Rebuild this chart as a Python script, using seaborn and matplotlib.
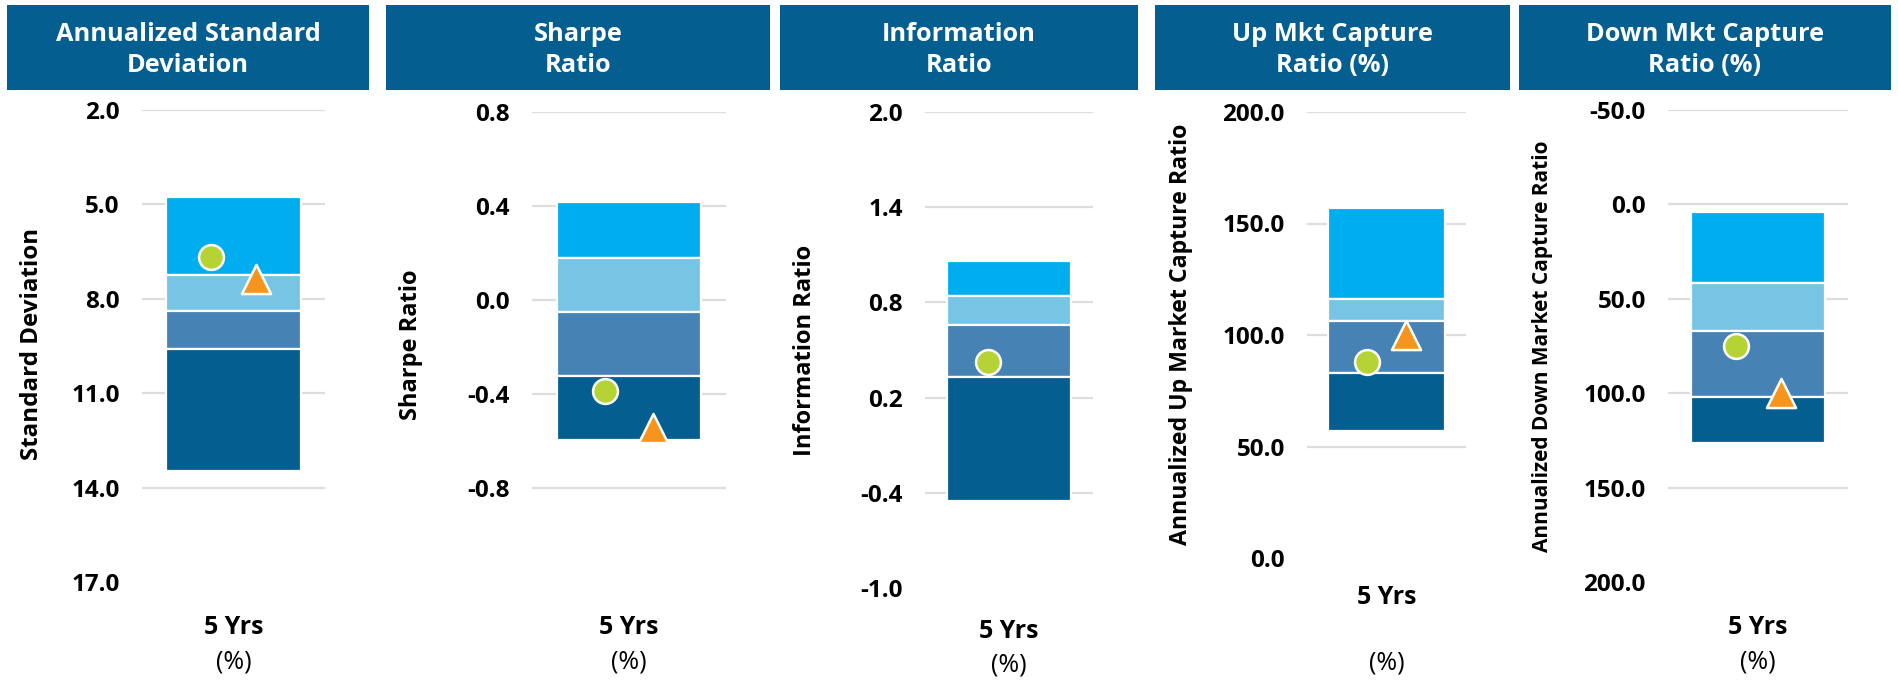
import matplotlib
matplotlib.use("Agg")
import matplotlib.pyplot as plt
import seaborn as sns

# Values
titles = ["Annualized Standard\nDeviation", "Sharpe\nRatio", "Information\nRatio",
          "Up Mkt Capture\nRatio (%)", "Down Mkt Capture\nRatio (%)"]
ylabels = ["Standard Deviation", "Sharpe Ratio", "Information Ratio",
           "Annualized Up Market Capture Ratio", "Annualized Down Market Capture Ratio"]
period = "5 Yrs"

# band edges, from the visual top of the bar to its bottom
std_edges = [4.76, 7.24, 8.39, 9.59, 13.47]
sharpe_edges = [0.415, 0.18, -0.051, -0.323, -0.596]
info_edges = [1.061, 0.841, 0.658, 0.331, -0.45]
up_edges = [157.0, 116.1, 106.3, 83.0, 57.0]
down_edges = [4.0, 41.6, 67.1, 102.0, 126.4]

fund_values = [6.67, -0.387, 0.425, 87.9, 75.0]
bench_values = [7.37, -0.545, None, 100.0, 100.0]

std_ticks = [2.0, 5.0, 8.0, 11.0, 14.0, 17.0]
sharpe_ticks = [0.8, 0.4, 0.0, -0.4, -0.8]
info_ticks = [2.0, 1.4, 0.8, 0.2, -0.4, -1.0]
up_ticks = [200.0, 150.0, 100.0, 50.0, 0.0]
down_ticks = [-50.0, 0.0, 50.0, 100.0, 150.0, 200.0]

all_edges = [std_edges, sharpe_edges, info_edges, up_edges, down_edges]
all_ticks = [std_ticks, sharpe_ticks, info_ticks, up_ticks, down_ticks]
# (value at top, value at bottom) of each axis
limits = [(2.0, 17.0), (0.8, -1.2), (2.0, -1.0), (200.0, 0.0), (-50.0, 200.0)]

band_colors = ["#00AEEF", "#78C4E4", "#4682B4", "#045E8F"]
header_color = "#045E8F"
fund_color = "#B5D334"
bench_color = "#F7941D"
grid_color = "#DDDDDD"

sns.set_theme(style="white")
plt.rcParams["font.family"] = ["Open Sans", "DejaVu Sans"]

W, H = 1898, 680
fig = plt.figure(figsize=(W / 100, H / 100), dpi=100)

# pixel layout: axes box (left, right, top, bottom), header band (left, right)
boxes = [(142, 325, 110, 582), (532, 726, 112, 582), (925, 1093, 112, 588),
         (1307, 1466, 112, 558), (1668, 1848, 110, 582)]
headers = [(7, 369), (386, 770), (780, 1138), (1155, 1510), (1519, 1891)]
ylabel_x = [44, 423, 817, 1193, 1553]
ylabel_y = [344, 345, 350, 334, 346]
yrs_y = [627, 627, 632, 598, 627]
pct_y = [662, 662, 665, 663, 662]
ylabel_size = [17.4, 17, 17, 16.7, 15]


def fx(px):
    return px / W


def fy(py):
    return 1 - py / H


for i in range(5):
    left, right, top, bottom = boxes[i]
    ax = fig.add_axes([fx(left), fy(bottom), fx(right - left), (bottom - top) / H])

    # header band
    hl, hr = headers[i]
    band = fig.add_axes([fx(hl), fy(90), fx(hr - hl), 85 / H])
    band.set_facecolor(header_color)
    band.set_xticks([])
    band.set_yticks([])
    for s in band.spines.values():
        s.set_visible(False)
    band.text(0.5, 0.47, titles[i], ha="center", va="center", color="white",
              fontsize=18.3, fontweight="bold", linespacing=1.35,
              transform=band.transAxes)

    top_val, bottom_val = limits[i]
    ax.set_xlim(-0.5, 0.5)
    ax.set_ylim(bottom_val, top_val)

    ticks = all_ticks[i]
    for t in ticks:
        if t != bottom_val:
            ax.axhline(t, color=grid_color, lw=1.6, zorder=0)
    ax.set_yticks(ticks, [f"{t:.1f}" for t in ticks])
    ax.tick_params(axis="y", length=0, pad=16, labelsize=17.5)
    for lab in ax.get_yticklabels():
        lab.set_fontweight("bold")
        lab.set_color("black")

    edges = all_edges[i]
    for k in range(4):
        ax.bar(0, edges[k + 1] - edges[k], bottom=edges[k], width=0.74,
               color=band_colors[k], edgecolor="white", linewidth=1.6, zorder=2)

    sns.scatterplot(x=[-0.125], y=[fund_values[i]], ax=ax, marker="o", s=320,
                    color=fund_color, edgecolor="white", linewidth=1.8, zorder=5)
    if bench_values[i] is not None:
        sns.scatterplot(x=[0.125], y=[bench_values[i]], ax=ax, marker="^", s=440,
                        color=bench_color, edgecolor="white", linewidth=1.8, zorder=6)

    # small end tick at the right of the category axis
    ax.set_xticks([])
    ax.set_xticks([0.5], minor=True)
    ax.tick_params(axis="x", which="minor", direction="in", length=8, width=1.8,
                   color=grid_color, labelbottom=False)
    for s in ax.spines.values():
        s.set_visible(False)

    ax.set_ylabel(ylabels[i], fontsize=ylabel_size[i], fontweight="bold", color="black")
    ax.yaxis.set_label_coords(fx(ylabel_x[i]), fy(ylabel_y[i]), transform=fig.transFigure)

    cx = fx((left + right) / 2)
    fig.text(cx, fy(yrs_y[i]), period, ha="center", va="center",
             fontsize=18, fontweight="bold", color="black")
    fig.text(cx, fy(pct_y[i]), "(%)", ha="center", va="center",
             fontsize=18, color="black")

fig.savefig("out.png", dpi=100)
